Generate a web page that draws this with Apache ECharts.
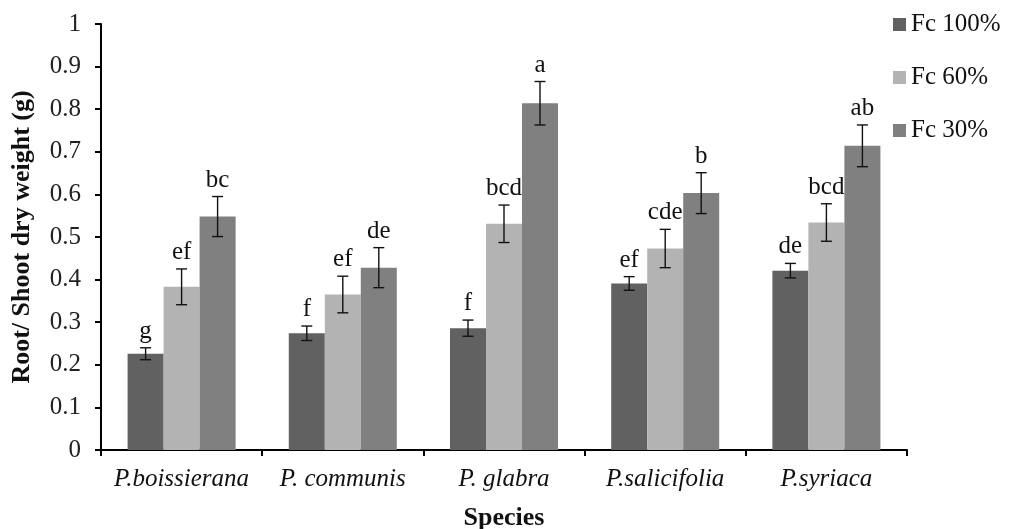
<!DOCTYPE html>
<html>
<head>
<meta charset="utf-8">
<script src="https://cdn.jsdelivr.net/npm/echarts@6/dist/echarts.min.js"></script>
<style>html,body{margin:0;padding:0;background:#fff;}#c{width:1009px;height:529px;}</style>
</head>
<body>
<div id="c"></div>
<script>
var categories = ['P.boissierana', 'P. communis', 'P. glabra', 'P.salicifolia', 'P.syriaca'];
var seriesNames = ['Fc 100%', 'Fc 60%', 'Fc 30%'];
var fc100 = [0.226, 0.274, 0.286, 0.391, 0.421];
var fc60 = [0.383, 0.365, 0.531, 0.473, 0.534];
var fc30 = [0.548, 0.428, 0.814, 0.603, 0.714];
var err100 = [0.014, 0.017, 0.019, 0.016, 0.017];
var err60 = [0.042, 0.043, 0.044, 0.045, 0.044];
var err30 = [0.047, 0.047, 0.051, 0.048, 0.049];
var letters100 = ['g', 'f', 'f', 'ef', 'de'];
var letters60 = ['ef', 'ef', 'bcd', 'cde', 'bcd'];
var letters30 = ['bc', 'de', 'a', 'b', 'ab'];
var colors = ['#616161', '#b3b3b3', '#808080'];

var values = [fc100, fc60, fc30];
var errs = [err100, err60, err30];
var letters = [letters100, letters60, letters30];
var FONT = 'Liberation Serif, Times New Roman, serif';
var catGap = 0.33;
var barFrac = (1 - catGap) / 3;

var chart = echarts.init(document.getElementById('c'));
var series = [];
values.forEach(function (vals, si) {
  series.push({
    name: seriesNames[si],
    type: 'bar',
    data: vals,
    barGap: '0%',
    barCategoryGap: (catGap * 100) + '%',
    itemStyle: { color: colors[si] },
    z: 2
  });
});
values.forEach(function (vals, si) {
  var data = vals.map(function (v, i) { return [i, v, errs[si][i], letters[si][i]]; });
  series.push({
    name: 'err' + si,
    type: 'custom',
    data: data,
    encode: { x: 0, y: 1 },
    clip: false,
    z: 5,
    renderItem: function (params, api) {
      var idx = api.value(0);
      var v = api.value(1);
      var e = api.value(2);
      var lab = data[params.dataIndex][3];
      var catW = api.size([1, 0])[0];
      var off = (si - 1) * catW * barFrac;
      var top = api.coord([idx, v + e]);
      var bot = api.coord([idx, v - e]);
      var x = top[0] + off;
      var hw = 5.5;
      var ls = { stroke: '#111', lineWidth: 1.4 };
      return {
        type: 'group',
        children: [
          { type: 'line', shape: { x1: x, y1: top[1], x2: x, y2: bot[1] }, style: ls },
          { type: 'line', shape: { x1: x - hw, y1: top[1], x2: x + hw, y2: top[1] }, style: ls },
          { type: 'line', shape: { x1: x - hw, y1: bot[1], x2: x + hw, y2: bot[1] }, style: ls },
          { type: 'text', style: { text: lab, x: x, y: top[1] - 4, align: 'center', verticalAlign: 'bottom', font: '25px ' + FONT, fill: '#111' } }
        ]
      };
    }
  });
});

chart.setOption({
  animation: false,
  backgroundColor: '#fff',
  grid: { left: 101, right: 102, top: 24, bottom: 79, containLabel: false, outerBoundsMode: 'none' },
  legend: {
    data: seriesNames,
    orient: 'vertical',
    left: 888,
    top: 7,
    itemWidth: 13,
    itemHeight: 13,
    itemGap: 28,
    icon: 'rect',
    textStyle: { fontFamily: FONT, fontSize: 25, color: '#111', padding: [0, 0, 0, 0] },
    itemStyle: { borderWidth: 0 }
  },
  xAxis: {
    type: 'category',
    data: categories,
    name: 'Species',
    nameLocation: 'middle',
    nameGap: 55,
    nameTextStyle: { fontFamily: FONT, fontSize: 26, fontWeight: 'bold', color: '#111' },
    axisLine: { lineStyle: { color: '#000', width: 2 } },
    axisTick: { show: true, length: 6, lineStyle: { color: '#000', width: 2 } },
    axisLabel: { interval: 0, fontFamily: FONT, fontSize: 25, fontStyle: 'italic', color: '#111', margin: 17, hideOverlap: false },
    splitLine: { show: false }
  },
  yAxis: {
    type: 'value',
    min: 0,
    max: 1,
    interval: 0.1,
    name: 'Root/ Shoot dry weight (g)',
    nameLocation: 'middle',
    nameGap: 66,
    nameTextStyle: { fontFamily: FONT, fontSize: 26, fontWeight: 'bold', color: '#111' },
    axisLine: { show: true, lineStyle: { color: '#000', width: 2 } },
    axisTick: { show: true, length: 6, lineStyle: { color: '#000', width: 2 } },
    axisLabel: { fontFamily: FONT, fontSize: 25, color: '#222', margin: 20 },
    splitLine: { show: false }
  },
  series: series
});
</script>
</body>
</html>
